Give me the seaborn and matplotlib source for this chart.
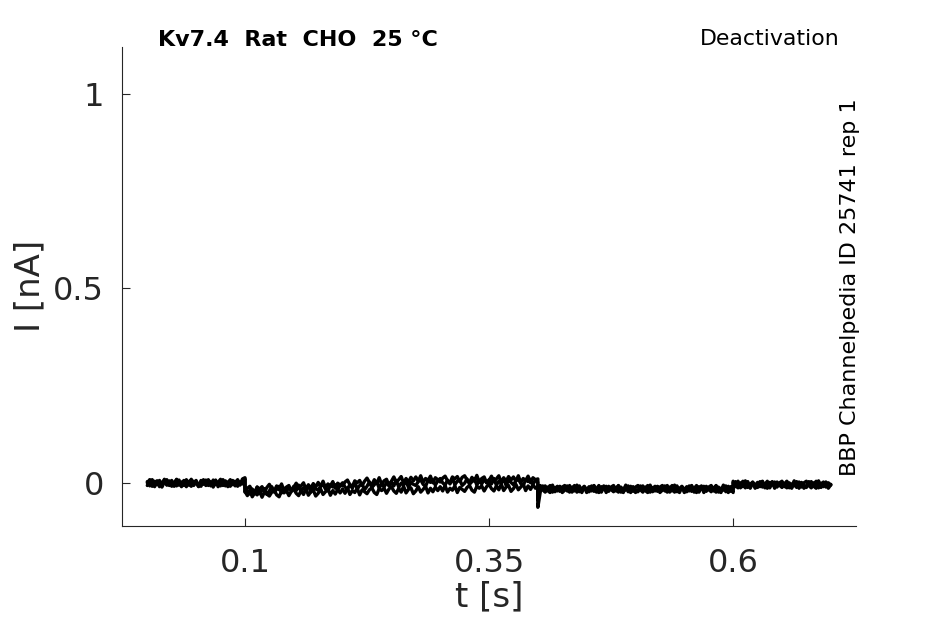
import numpy as np
import pandas as pd
import matplotlib
matplotlib.use("Agg")
import matplotlib.pyplot as plt
import seaborn as sns

# ---- segment boundaries of the deactivation protocol [s] ----
seg_edges = [0.0, 0.1, 0.4, 0.6, 0.7]

# ---- recorded current per sweep [pA], one list per protocol segment (2.5 ms steps) ----
sweep1_pre = [4, -7, 9, -3, 6, -9, 2, 8, -5, -1, 7, -8, 10, -4, 3, -6, 9, -2, -8, 5,
              1, -9, 7, -3, 8, -6, 4, -10, 6, 0, -7, 9, -4, 3, -8, 7, -2, 6, -5, 11, 14]
sweep1_test = [-21, -32, -18, -35, -25, -30, -19, -36, -23, -28,
               -33, -23, -18, -30, -35, -20, -25, -19, -32, -21,
               -15, -26, -32, -19, -29, -14, -31, -22, -18, -33,
               -26, -15, -29, -22, -14, -31, -19, -28, -16, -25,
               -15, -26, -12, -29, -19, -24, -13, -30, -17, -22,
               -27, -17, -12, -24, -29, -14, -19, -13, -26, -15,
               -9, -20, -26, -13, -23, -8, -25, -16, -12, -27,
               -20, -9, -23, -16, -8, -25, -13, -22, -10, -19,
               -9, -20, -6, -23, -13, -18, -7, -24, -11, -16,
               -21, -11, -6, -18, -23, -8, -13, -7, -20, -9,
               -3, -14, -20, -7, -17, -2, -19, -10, -6, -21,
               -14, -3, -17, -10, -2, -19, -7, -16, -4, -13, -9]
sweep1_tail = [-62,
               -22, -12, -7, -19, -24, -9, -14, -8, -21, -10,
               -6, -17, -23, -10, -20, -5, -22, -13, -9, -24,
               -18, -7, -21, -14, -6, -23, -11, -20, -8, -17,
               -9, -20, -6, -23, -13, -18, -7, -24, -11, -16,
               -22, -12, -7, -19, -24, -9, -14, -8, -21, -10,
               -6, -17, -23, -10, -20, -5, -22, -13, -9, -24,
               -18, -7, -21, -14, -6, -23, -11, -20, -8, -17,
               -9, -20, -6, -23, -13, -18, -7, -24, -11, -16]
sweep1_post = [-7, 4, -10, -3, 5, -12, 0, -9, 3, -6,
               2, -9, 5, -12, -2, -7, 4, -13, 0, -5,
               -11, -1, 4, -8, -13, 2, -3, 3, -10, 1,
               5, -6, -12, 1, -9, 6, -11, -2, 2, -13, -4]

sweep2_pre = [-6, 8, -2, -9, 5, 3, -7, 10, -4, 6, -8, 2, 9, -5, -1, 7, -9, 4, 8, -6,
              3, -3, -8, 9, -1, 5, -7, 8, -4, 2, 10, -6, 6, -9, 1, 4, -7, 9, -3, 7, 9]
sweep2_test = [-11, -22, -28, -15, -25, -10, -27, -18, -14, -29,
               -20, -9, -23, -16, -8, -25, -13, -22, -10, -19,
               -8, -19, -5, -22, -12, -17, -6, -23, -10, -15,
               -18, -8, -3, -15, -20, -5, -10, -4, -17, -6,
               1, -10, -16, -3, -13, 2, -15, -6, -2, -17,
               -8, 3, -11, -4, 4, -13, -1, -10, 2, -7,
               4, -7, 7, -10, 0, -5, 6, -11, 2, -3,
               -6, 4, 9, -3, -8, 7, 2, 8, -5, 6,
               12, 1, -5, 8, -2, 13, -4, 5, 9, -6,
               0, 11, -3, 4, 12, -5, 7, -2, 10, 1,
               9, -2, 12, -5, 5, 0, 11, -6, 7, 2,
               -4, 6, 11, -1, -6, 9, 4, 10, -3, 8, 2]
sweep2_tail = [-45,
               -6, -17, -23, -10, -20, -5, -22, -13, -9, -24,
               -18, -7, -21, -14, -6, -23, -11, -20, -8, -17,
               -9, -20, -6, -23, -13, -18, -7, -24, -11, -16,
               -22, -12, -7, -19, -24, -9, -14, -8, -21, -10,
               -6, -17, -23, -10, -20, -5, -22, -13, -9, -24,
               -18, -7, -21, -14, -6, -23, -11, -20, -8, -17,
               -9, -20, -6, -23, -13, -18, -7, -24, -11, -16,
               -22, -12, -7, -19, -24, -9, -14, -8, -21, -10]
sweep2_post = [2, -9, 5, -12, -2, -7, 4, -13, 0, -5,
               -11, -1, 4, -8, -13, 2, -3, 3, -10, 1,
               5, -6, -12, 1, -9, 6, -11, -2, 2, -13,
               -7, 4, -10, -3, 5, -12, 0, -9, 3, -6, -3]

sweep3_pre = [1, 9, -8, 5, -4, 7, -10, 3, 9, -6, 4, -2, -7, 8, -9, 5, 2, -5, 10, -3,
              7, -8, 1, 6, -6, 9, -2, -5, 8, -9, 3, 6, -7, 1, 9, -4, 5, -8, 3, -2, 12]
sweep3_test = [-23, -13, -8, -20, -25, -10, -15, -9, -22, -11,
               -3, -14, -20, -7, -17, -2, -19, -10, -6, -21,
               -11, 0, -14, -7, 1, -16, -4, -13, -1, -10,
               2, -9, 5, -12, -2, -7, 4, -13, 0, -5,
               -7, 3, 8, -4, -9, 6, 1, 7, -6, 5,
               13, 2, -4, 9, -1, 14, -3, 6, 10, -5,
               5, 16, 2, 9, 17, 0, 12, 3, 15, 6,
               16, 5, 19, 2, 12, 7, 18, 1, 14, 9,
               3, 13, 18, 6, 1, 16, 11, 17, 4, 15,
               19, 8, 2, 15, 5, 20, 3, 12, 16, 1,
               7, 18, 4, 11, 19, 2, 14, 5, 17, 8,
               16, 5, 19, 2, 12, 7, 18, 1, 14, 9, 11]
sweep3_tail = [-35,
               -18, -7, -21, -14, -6, -23, -11, -20, -8, -17,
               -9, -20, -6, -23, -13, -18, -7, -24, -11, -16,
               -22, -12, -7, -19, -24, -9, -14, -8, -21, -10,
               -6, -17, -23, -10, -20, -5, -22, -13, -9, -24,
               -18, -7, -21, -14, -6, -23, -11, -20, -8, -17,
               -9, -20, -6, -23, -13, -18, -7, -24, -11, -16,
               -22, -12, -7, -19, -24, -9, -14, -8, -21, -10,
               -6, -17, -23, -10, -20, -5, -22, -13, -9, -24]
sweep3_post = [5, -6, -12, 1, -9, 6, -11, -2, 2, -13,
               -7, 4, -10, -3, 5, -12, 0, -9, 3, -6,
               2, -9, 5, -12, -2, -7, 4, -13, 0, -5,
               -11, -1, 4, -8, -13, 2, -3, 3, -10, 1, -5]

sweeps = {
    1: [sweep1_pre, sweep1_test, sweep1_tail, sweep1_post],
    2: [sweep2_pre, sweep2_test, sweep2_tail, sweep2_post],
    3: [sweep3_pre, sweep3_test, sweep3_tail, sweep3_post],
}

# one frame per sweep; segment boundaries repeated so the steps are vertical
rows = []
for sid, segs in sweeps.items():
    t = np.concatenate([np.linspace(seg_edges[k], seg_edges[k + 1], len(s))
                        for k, s in enumerate(segs)])
    i_nA = np.concatenate([np.array(s, dtype=float) for s in segs]) / 1000.0  # pA -> nA
    rows.append(pd.DataFrame({"t": t, "I": i_nA, "sweep": sid}))
df = pd.concat(rows, ignore_index=True)

sns.set_style("ticks")
plt.rcParams["font.family"] = ["DejaVu Sans"]
plt.rcParams["xtick.direction"] = "in"
plt.rcParams["ytick.direction"] = "in"

fig = plt.figure(figsize=(9.45, 6.24), dpi=100)
ax = fig.add_axes([0.129, 0.157, 0.777, 0.768])

sns.lineplot(data=df, x="t", y="I", units="sweep", estimator=None, color="black",
             linewidth=2.4, sort=False, ax=ax, legend=False)

ax.set_xlim(-0.026, 0.726)
ax.set_ylim(-0.11, 1.12)
ax.set_xticks([0.1, 0.35, 0.6])
ax.set_xticklabels(["0.1", "0.35", "0.6"])
ax.set_yticks([0, 0.5, 1])
ax.set_yticklabels(["0", "0.5", "1"])
ax.tick_params(labelsize=23, colors="#262626", length=6)
ax.tick_params(axis="x", pad=16)
ax.tick_params(axis="y", pad=13)
ax.set_xlabel("t [s]", fontsize=24.5, color="#262626", labelpad=1)
ax.set_ylabel("I [nA]", fontsize=24.5, color="#262626", labelpad=5)
sns.despine(ax=ax)
for sp in ["left", "bottom"]:
    ax.spines[sp].set_color("#262626")

fig.text(0.167, 0.936, "Kv7.4  Rat  CHO  25 °C", fontsize=16, fontweight="bold",
         color="black", ha="left", va="center")
fig.text(0.889, 0.938, "Deactivation", fontsize=15.8, color="black", ha="right", va="center")
fig.text(0.899, 0.54, "BBP Channelpedia ID 25741 rep 1", fontsize=16, rotation=90,
         color="black", ha="center", va="center")

fig.savefig("out.png", dpi=100)
